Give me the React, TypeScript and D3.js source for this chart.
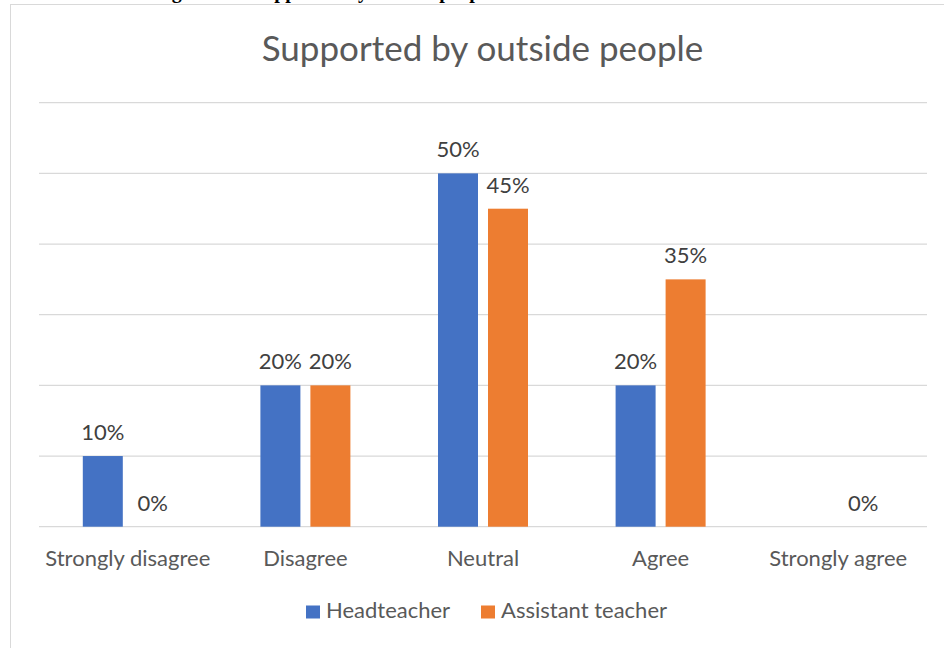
import { scaleBand, scaleLinear, range } from 'd3'

const categories = ['Strongly disagree', 'Disagree', 'Neutral', 'Agree', 'Strongly agree']
const series = ['Headteacher', 'Assistant teacher']
const headteacher = [0.1, 0.2, 0.5, 0.2, null]
const assistantTeacher = [0, 0.2, 0.45, 0.35, 0]
const yTicks = [0, 0.1, 0.2, 0.3, 0.4, 0.5, 0.6]
const colors = ['#4472C4', '#ED7D31']

const font = 'Lato, Carlito, Calibri, sans-serif'

export default function App() {
  const width = 944
  const height = 648
  const values = [headteacher, assistantTeacher]

  const x0 = scaleBand<string>().domain(categories).range([39, 927])
  const x1 = scaleBand<string>()
    .domain(series)
    .range([x0.bandwidth() / 2 - 45, x0.bandwidth() / 2 + 45])
    .paddingInner(0.2)
  const y = scaleLinear().domain([0, 0.6]).range([526.7, 102.7])

  return (
    <svg
      width={width}
      height={height}
      viewBox={`0 0 ${width} ${height}`}
      style={{ position: 'absolute', left: 0, top: 0, display: 'block' }}
    >
      <rect width={width} height={height} fill="#ffffff" />
      {/* caption of the document, cut off by the crop */}
      <text x="154" y="-2" fontFamily="'Liberation Serif', serif" fontWeight="bold" fontSize="20" fill="#000">
        Figure 4.9: Supported by outside people
      </text>
      <rect x="10.5" y="4.5" width={width + 20} height={height + 20} fill="#fff" stroke="#d9d9d9" />

      <text x="482.5" y="61" textAnchor="middle" fontFamily={font} fontSize="35" fill="#595959">
        Supported by outside people
      </text>

      {yTicks.map((t) => (
        <line key={t} x1={39} x2={927} y1={y(t)} y2={y(t)} stroke="#d9d9d9" strokeWidth="1.3" />
      ))}

      {categories.map((c, i) => (
        <g key={c} transform={`translate(${x0(c)},0)`}>
          {series.map((s, si) => {
            const v = values[si][i]
            if (v === null || v === undefined) return null
            const bx = x1(s) ?? 0
            return (
              <g key={s}>
                {v > 0 && (
                  <rect x={bx} y={y(v)} width={x1.bandwidth()} height={y(0) - y(v)} fill={colors[si]} />
                )}
                <text
                  x={bx + x1.bandwidth() / 2}
                  y={y(v) - 16}
                  textAnchor="middle"
                  fontFamily={font}
                  fontSize="22"
                  fill="#404040"
                >
                  {Math.round(v * 100)}%
                </text>
              </g>
            )
          })}
          <text
            x={x0.bandwidth() / 2}
            y={566}
            textAnchor="middle"
            fontFamily={font}
            fontSize="22"
            fill="#595959"
          >
            {c}
          </text>
        </g>
      ))}

      {series.map((s, si) => {
        const lx = [306, 481][si]
        return (
          <g key={s}>
            <rect x={lx} y={605.5} width={14} height={13} fill={colors[si]} />
            <text x={lx + 20} y={618} fontFamily={font} fontSize="22" fill="#595959">
              {s}
            </text>
          </g>
        )
      })}
      {range(0).map((d) => d)}
    </svg>
  )
}
